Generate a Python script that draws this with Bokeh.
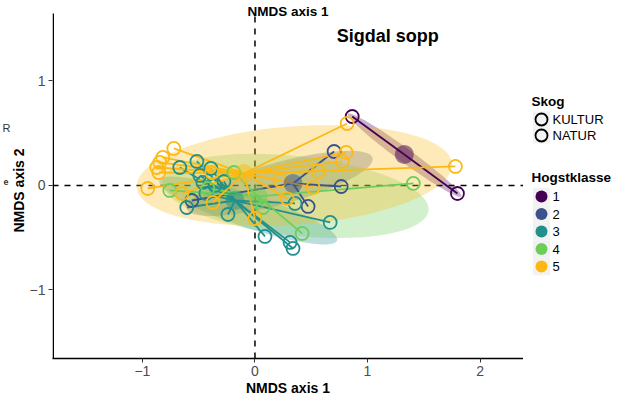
import numpy as np
from bokeh.plotting import figure
from bokeh.models import Range1d, Span, Label, FixedTicker
from bokeh.layouts import row, column
from bokeh.embed import file_html
from bokeh.resources import INLINE
from bokeh.core.properties import value

# ---------------- data ----------------
classes = ["1", "2", "3", "4", "5"]
colors = ["#440154", "#3B528B", "#21908C", "#6CCE59", "#FDB913"]
skog_labels = ["KULTUR", "NATUR"]

x_k1 = [0.864, 1.799]
y_k1 = [0.660, -0.077]

x_k2 = [0.703, 0.766, 0.472, -0.561]
y_k2 = [0.325, -0.010, -0.201, -0.144]

x_k3 = [-0.516, -0.668, -0.490, -0.463, -0.392, -0.356, -0.276, -0.606,
        -0.240, 0.089, 0.312, 0.338, 0.668, 0.356, -0.436]
y_k3 = [0.230, 0.172, 0.096, 0.029, 0.163, 0.000, 0.038, -0.211,
        -0.278, -0.488, -0.545, -0.603, -0.354, -0.172, -0.077]

x_k4 = [1.407, 0.419, -0.757, -0.419, 0.071, -0.187]
y_k4 = [0.019, -0.459, -0.048, -0.029, -0.211, 0.124]

x_k5 = [0.819, 0.810, 0.775, 0.561, 0.516, 1.781, 0.223, 0.285, 0.000,
        -0.374, -0.721, -0.819, -0.846, -0.873, -0.855, -0.953, -0.383, -0.650]
y_k5 = [0.593, 0.316, 0.230, 0.134, -0.019, 0.182, 0.048, -0.124, -0.316,
        -0.163, 0.354, 0.268, 0.220, 0.172, 0.124, -0.029, 0.124, -0.077]

pts_x = [x_k1, x_k2, x_k3, x_k4, x_k5]
pts_y = [y_k1, y_k2, y_k3, y_k4, y_k5]

cent_x = [1.327, 0.338, -0.178, 0.027, -0.098]
cent_y = [0.297, 0.019, -0.144, -0.105, 0.115]

ell_cx = [1.33, 0.22, -0.06, 0.36, 0.35]
ell_cy = [0.29, 0.02, -0.24, -0.10, 0.095]
ell_a = [0.64, 0.86, 0.84, 1.19, 1.405]
ell_b = [0.065, 0.20, 0.16, 0.38, 0.47]
ell_ang = [-0.667, 0.29, -0.35, -0.12, 0.082]

x_ticks = [-1, 0, 1, 2]
y_ticks = [-1, 0, 1]

FONT = "Liberation Sans"
LEFT_W = 26

X_MIN, X_MAX = -1.799, 2.386
Y_MIN, Y_PANEL_TOP, Y_CANVAS_TOP = -1.656, 1.646, 1.770


def blank(width, height, x0, x1, y0, y1):
    f = figure(width=width, height=height, output_backend="svg",
               toolbar_location=None, x_range=Range1d(x0, x1),
               y_range=Range1d(y0, y1), x_axis_location=None,
               y_axis_location=None, min_border=0, min_border_left=0,
               min_border_right=0, min_border_top=0, min_border_bottom=0)
    f.outline_line_color = None
    f.xgrid.visible = False
    f.ygrid.visible = False
    return f


# ---------------- main plot ----------------
p = figure(width=523 - LEFT_W, height=405, output_backend="svg",
           toolbar_location=None,
           x_range=Range1d(X_MIN, X_MAX), y_range=Range1d(Y_MIN, Y_CANVAS_TOP),
           min_border_left=20, min_border_right=0, min_border_top=0,
           min_border_bottom=47)
p.outline_line_color = None
p.xgrid.visible = False
p.ygrid.visible = False
p.background_fill_color = "white"

for ax, ticks in ((p.xaxis, x_ticks), (p.yaxis, y_ticks)):
    ax.ticker = FixedTicker(ticks=ticks)
    ax.minor_tick_line_color = None
    ax.major_tick_out = 4
    ax.major_tick_in = 0
    ax.major_tick_line_color = "#333333"
    ax.major_tick_line_width = 1
    ax.axis_line_color = "black"
    ax.axis_line_width = 1.5
    ax.major_label_text_color = "#4D4D4D"
    ax.major_label_text_font = FONT
    ax.major_label_text_font_size = "14px"
    ax.major_label_standoff = 3
    ax.axis_label_text_font = FONT
    ax.axis_label_text_font_style = "bold"
    ax.axis_label_text_font_size = "14px"
    ax.axis_label_text_color = "black"

p.yaxis.axis_line_color = None
p.xaxis.axis_label = "NMDS axis 1"
p.xaxis.axis_label_standoff = 1

# left spine drawn only up to the panel top
px_x = (X_MAX - X_MIN) / 470.0
p.segment(x0=[X_MIN + 0.75 * px_x], y0=[Y_MIN], x1=[X_MIN + 0.75 * px_x],
          y1=[Y_PANEL_TOP], line_color="black", line_width=1.5)

# dashed zero lines
p.segment(x0=[0], y0=[Y_MIN], x1=[0], y1=[Y_PANEL_TOP], line_color="black",
          line_width=1.5, line_dash="6 6", level="underlay")
p.add_layout(Span(location=0, dimension="width", line_color="black",
                  line_width=1.5, line_dash="6 6", level="underlay"))

# ellipses
t = np.linspace(0, 2 * np.pi, 120)
exs, eys = [], []
for cx, cy, a, b, th in zip(ell_cx, ell_cy, ell_a, ell_b, ell_ang):
    exs.append(list(cx + a * np.cos(t) * np.cos(th) - b * np.sin(t) * np.sin(th)))
    eys.append(list(cy + a * np.cos(t) * np.sin(th) + b * np.sin(t) * np.cos(th)))
p.patches(exs, eys, fill_color=colors, fill_alpha=0.3, line_color=None)

# spider segments
for i in range(len(classes)):
    n = len(pts_x[i])
    p.segment(x0=[cent_x[i]] * n, y0=[cent_y[i]] * n, x1=pts_x[i], y1=pts_y[i],
              line_color=colors[i], line_width=1.8)

# points
for i in range(len(classes)):
    p.scatter(pts_x[i], pts_y[i], marker="circle", size=13, fill_color=None,
              line_color=colors[i], line_width=1.8)

# centroids
p.scatter(cent_x, cent_y, marker="circle", size=19, fill_color=colors,
          fill_alpha=0.5, line_color=None)

p.add_layout(Label(x=1.18, y=1.43, text="Sigdal sopp", text_align="center",
                   text_baseline="alphabetic", text_font=FONT,
                   text_font_style="bold", text_font_size="18px",
                   text_color="black"))

# secondary (top) axis title
p.text(x=[(X_MIN + X_MAX) / 2], y=[1.6695], text=["NMDS axis 1"],
       text_font=value(FONT), text_font_style="bold", text_font_size="13.5px",
       text_align="center", text_baseline="alphabetic", text_color="black")

# ---------------- left margin: fragments + y axis title ----------------
lf = blank(LEFT_W, 405, 0, LEFT_W, 405, 0)
lf.text(x=[2], y=[127], text=["R"], text_font=value(FONT),
        text_font_size="11px", text_baseline="alphabetic", text_color="#333333")
lf.text(x=[3], y=[181], text=["e"], text_font=value(FONT), text_font_style="bold",
        text_font_size="9px", text_baseline="alphabetic", text_color="#333333")
lf.text(x=[18], y=[190], text=["NMDS axis 2"], angle=np.pi / 2,
        text_font=value(FONT), text_font_style="bold", text_font_size="14px",
        text_align="center", text_baseline="middle", text_color="black")

# ---------------- legend panel ----------------
lg = blank(99, 405, 523, 622, 405, 0)

key_x = 541
skog_y = [119 + 16 * i for i in range(len(skog_labels))]
hog_y = [196 + 17.5 * i for i in range(len(classes))]

lg.text(x=[531], y=[101], text=["Skog"], text_font=value(FONT),
        text_font_style="bold", text_font_size="13.5px", text_baseline="middle",
        text_color="black")
lg.text(x=[531], y=[177], text=["Hogstklasse"], text_font=value(FONT),
        text_font_style="bold", text_font_size="13.5px", text_baseline="middle",
        text_color="black")

lg.rect(x=[key_x] * len(skog_y), y=skog_y, width=17, height=16,
        fill_color="#F2F2F2", line_color=None)
lg.rect(x=[key_x] * len(hog_y), y=hog_y, width=17, height=17.5,
        fill_color="#F2F2F2", line_color=None)

lg.scatter([key_x] * len(skog_y), skog_y, marker="circle", size=12,
           fill_color=None, line_color="black", line_width=1.8)
lg.text(x=[552] * len(skog_y), y=skog_y, text=skog_labels, text_font=value(FONT),
        text_font_size="13px", text_baseline="middle", text_color="black")

lg.scatter([key_x] * len(hog_y), hog_y, marker="circle", size=12,
           fill_color=colors, line_color=None)
lg.text(x=[552] * len(hog_y), y=hog_y, text=classes, text_font=value(FONT),
        text_font_size="13px", text_baseline="middle", text_color="black")

layout = row(lf, column(p, spacing=0), lg, spacing=0)
open("out.html", "w").write(file_html(layout, INLINE))
